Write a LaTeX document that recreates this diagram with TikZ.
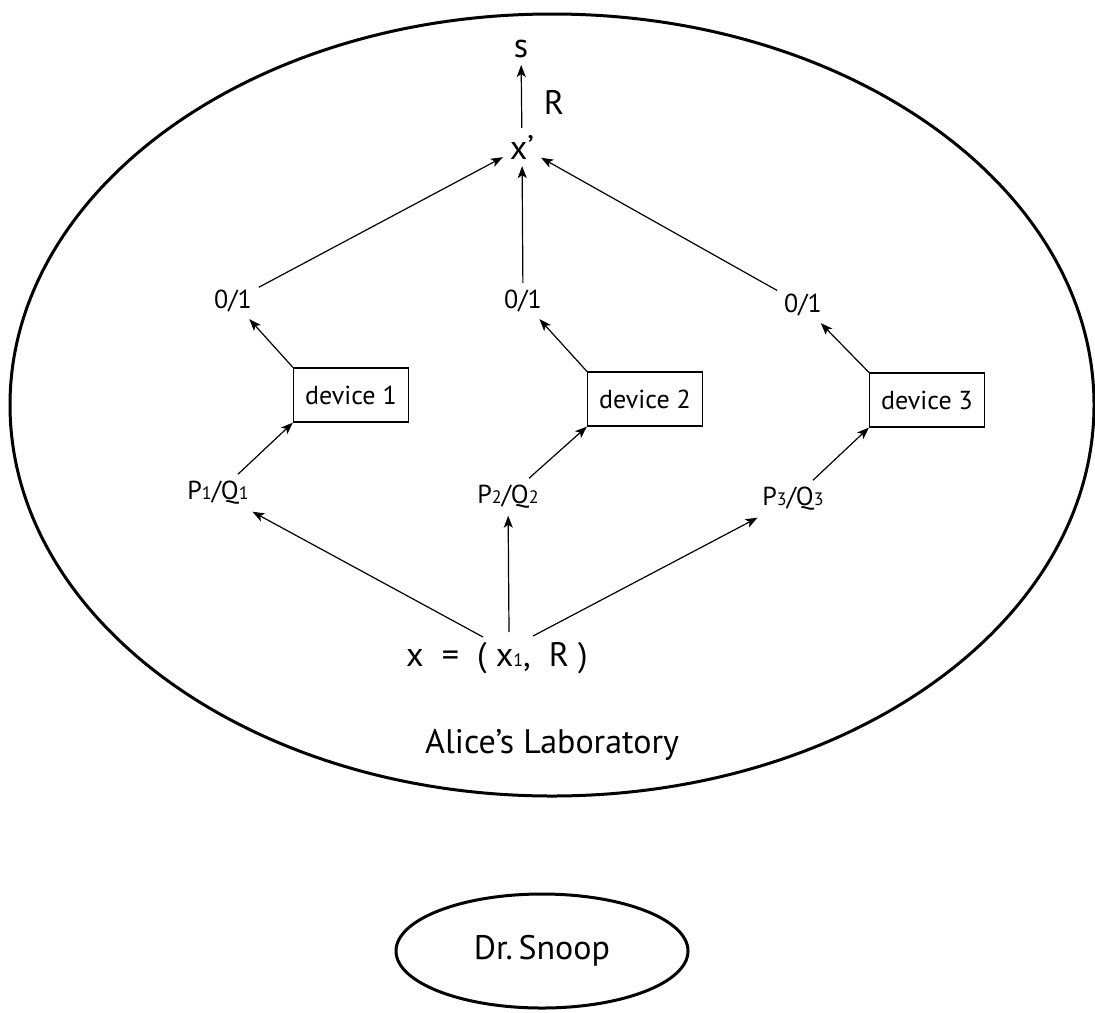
\documentclass[tikz,border=0pt]{standalone}
\usepackage{fontspec}
\setmainfont{PT Sans}
\usetikzlibrary{arrows.meta,shapes.geometric}
\newcommand{\lowsub}[1]{{\fontsize{9}{9}\selectfont #1}}

\begin{document}
\begin{tikzpicture}[
        x = .5pt, y = -.5pt,
        conn/.style = {line width = .6pt, -{Stealth[length = 6pt, width = 4.5pt, inset = 1.5pt]}},
        small/.style = {font = \fontsize{13}{15}\selectfont},
        big/.style = {font = \fontsize{17}{20}\selectfont},
        devbox/.style = {small, draw, line width = .6pt, minimum width = 57.5pt, minimum height = 27pt},
        border/.style = {line width = 1.5pt}
    ]
        \useasboundingbox (0, 0) rectangle (1095, 1012);

        % the laboratory
        \draw[border] (552, 405) ellipse [x radius = 542, y radius = 391];
        \node[big] (lab) at (552, 745) {Alice’s Laboratory};

        \node[big] (s) at (521, 49) {s};
        \node[big] (xp) at (522, 147) {x’};
        \node[big] (rr) at (554, 102) {R};
        \draw[conn] (xp) -- (s);

        \node[small] (zo1) at (233, 301) {0/1};
        \node[small] (zo2) at (523, 301) {0/1};
        \node[small] (zo3) at (803, 305) {0/1};

        \node[devbox] (dev1) at (351, 395) {device 1};
        \node[devbox] (dev2) at (645, 399) {device 2};
        \node[devbox] (dev3) at (927, 400) {device 3};

        \node[small] (pq1) at (218, 493) {P\lowsub{1}/Q\lowsub{1}};
        \node[small] (pq2) at (508, 497) {P\lowsub{2}/Q\lowsub{2}};
        \node[small] (pq3) at (793, 499) {P\lowsub{3}/Q\lowsub{3}};

        \node[big] (xn) at (497, 658) {x \ = \ ( x\lowsub{1}, \ R )};
        \coordinate (a1) at (483, 637);
        \coordinate (a2) at (509, 632);
        \coordinate (a3) at (533, 636);

        \foreach \i in {1, 2, 3} {
            \draw[conn] (a\i) -- (pq\i);
            \draw[conn] (pq\i) -- (dev\i.south west);
            \draw[conn] (dev\i.north west) -- (zo\i);
            \draw[conn] (zo\i) -- (xp);
        }

        % the eavesdropper
        \node[big, draw, border, ellipse, minimum width = 146pt, minimum height = 57pt] (snoop) at (542, 951) {Dr.\,Snoop};
    \end{tikzpicture}
\end{document}
